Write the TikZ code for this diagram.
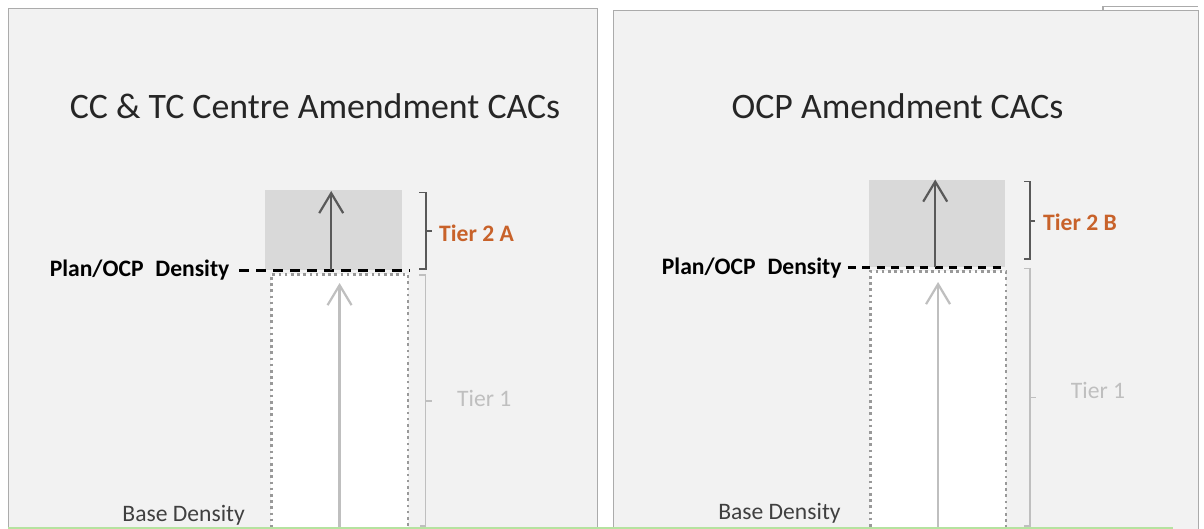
\documentclass[tikz,border=0pt]{standalone}
\usepackage{fontspec}
\setmainfont{Carlito}
\usepackage{xcolor}
\usepackage{tikz}
\usetikzlibrary{arrows.meta,positioning}
\definecolor{panelbg}{HTML}{F2F2F2}
\definecolor{panelln}{HTML}{ABABAB}
\definecolor{tiergray}{HTML}{D9D9D9}
\definecolor{dotln}{HTML}{999999}
\definecolor{darkln}{HTML}{595959}
\definecolor{lightln}{HTML}{BFBFBF}
\definecolor{ttlcol}{HTML}{262626}
\definecolor{basecol}{HTML}{404040}
\definecolor{tierorange}{HTML}{C8622A}
\definecolor{edgegreen}{HTML}{B5E3A0}
\newcommand{\lblfont}{\fontsize{23.6}{28}\selectfont}
\newcommand{\ttlfont}{\fontsize{35.8}{40}\selectfont}

\begin{document}
\begin{tikzpicture}[x=1pt,y=-1pt]

\tikzset{
	panel/.style={
		draw=panelln,
		rectangle,
		line width=1.4pt,
		fill=panelbg,
		anchor=north west,
		inner sep=0pt},
	ttl/.style={
		anchor=base,
		inner sep=0pt,
		text=ttlcol,
		font=\ttlfont},
	upper/.style={
		rectangle,
		fill=tiergray,
		anchor=north west,
		inner sep=0pt},
	lower/.style={
		draw=dotln,
		rectangle,
		fill=white,
		line width=2.6pt,
		dash pattern=on 2.6pt off 3.6pt,
		anchor=north west,
		inner sep=0pt},
	dens/.style={
		line width=2.4pt,
		black},
	lvl/.style={
		anchor=base east,
		inner sep=0pt,
		font=\lblfont\bfseries},
	base/.style={
		anchor=base east,
		inner sep=0pt,
		text=basecol,
		font=\lblfont},
	tiertwo/.style={
		anchor=base west,
		inner sep=0pt,
		text=tierorange,
		font=\lblfont\bfseries},
	tierone/.style={
		anchor=base west,
		inner sep=0pt,
		text=lightln,
		font=\lblfont},
	brkdk/.style={
		draw=darkln,
		line width=1.6pt},
	brklt/.style={
		draw=lightln,
		line width=1.6pt},
	updk/.style={
		-{Straight Barb[length=20pt,width=24pt]},
		darkln,
		line width=2.2pt},
	uplt/.style={
		-{Straight Barb[length=20pt,width=24pt]},
		lightln,
		line width=2.2pt}
}

\useasboundingbox (0,0) rectangle (1204,529);
\clip (0,0) rectangle (1204,529);

% left panel
\node[panel,minimum width=589pt,minimum height=535pt] (lp) at (8,8) {};
\node[ttl] (ta) at (315,118.6) {CC \& TC Centre Amendment CACs};

\node[lower,minimum width=136.5pt,minimum height=270pt] (la) at (270,273) {};
\node[upper,minimum width=137pt,minimum height=80.5pt] (ua) at (265,189.5) {};

\node[lvl] (pa) at (229.6,276.7) {Plan/OCP\hspace{0.5em}Density};
\draw[dens,dash pattern=on 10pt off 7pt,shorten <=9.4pt] (pa.east |- ua.south) -- (la.north east |- ua.south);

\draw[updk] ([xshift=-2.5pt]ua.south) -- ([xshift=-2.5pt,yshift=-1.5pt]ua.north);
\draw[uplt] (la.south) -- ([yshift=-10pt]la.north);

\draw[brkdk] (419,192.7) -| (426,269) -- (419,269) (426,231) -- (432,231);
\node[tiertwo] (t2a) at (439,241.7) {Tier 2 A};

\draw[brklt] (419,275) -| (425.5,526) -- (420,526) (425.5,401) -- (432,401);
\node[tierone] (t1a) at (457,406.5) {Tier 1};

\node[base] (bda) at (245,521) {Base Density};

% right panel
\node[panel,minimum width=585.5pt,minimum height=535pt] (rp) at (612.5,10) {};
\draw[panelln,line width=1.2pt] (1103,10) |- (1198,6.5);
\node[ttl] (tb) at (897.5,118.6) {OCP Amendment CACs};

\node[lower,minimum width=135.5pt,minimum height=270pt] (lb) at (869,270) {};
\node[upper,minimum width=136pt,minimum height=87.5pt] (ub) at (869,179.5) {};

\node[lvl] (pb) at (841.7,275) {Plan/OCP\hspace{0.5em}Density};
\draw[dens,dash pattern=on 8pt off 6.5pt,shorten <=6pt] (pb.east |- ub.south) -- (lb.north east |- ub.south);

\draw[updk] ([xshift=-2pt]ub.south) -- ([xshift=-2pt]ub.north);
\draw[uplt] (lb.south) -- ([yshift=-12pt]lb.north);

\draw[brkdk] (1024,181.7) -| (1030,259.3) -- (1024,259.3) (1030,221) -- (1035,221);
\node[tiertwo] (t2b) at (1043,231) {Tier 2 B};

\draw[brklt] (1024,268.5) -| (1030,526) -- (1024,526) (1030,397.5) -- (1036,397.5);
\node[tierone] (t1b) at (1070.7,398) {Tier 1};

\node[base] (bdb) at (840.8,519.6) {Base Density};

\draw[edgegreen,line width=1.5pt] (8,528) -- (1173,528);
\end{tikzpicture}
\end{document}
